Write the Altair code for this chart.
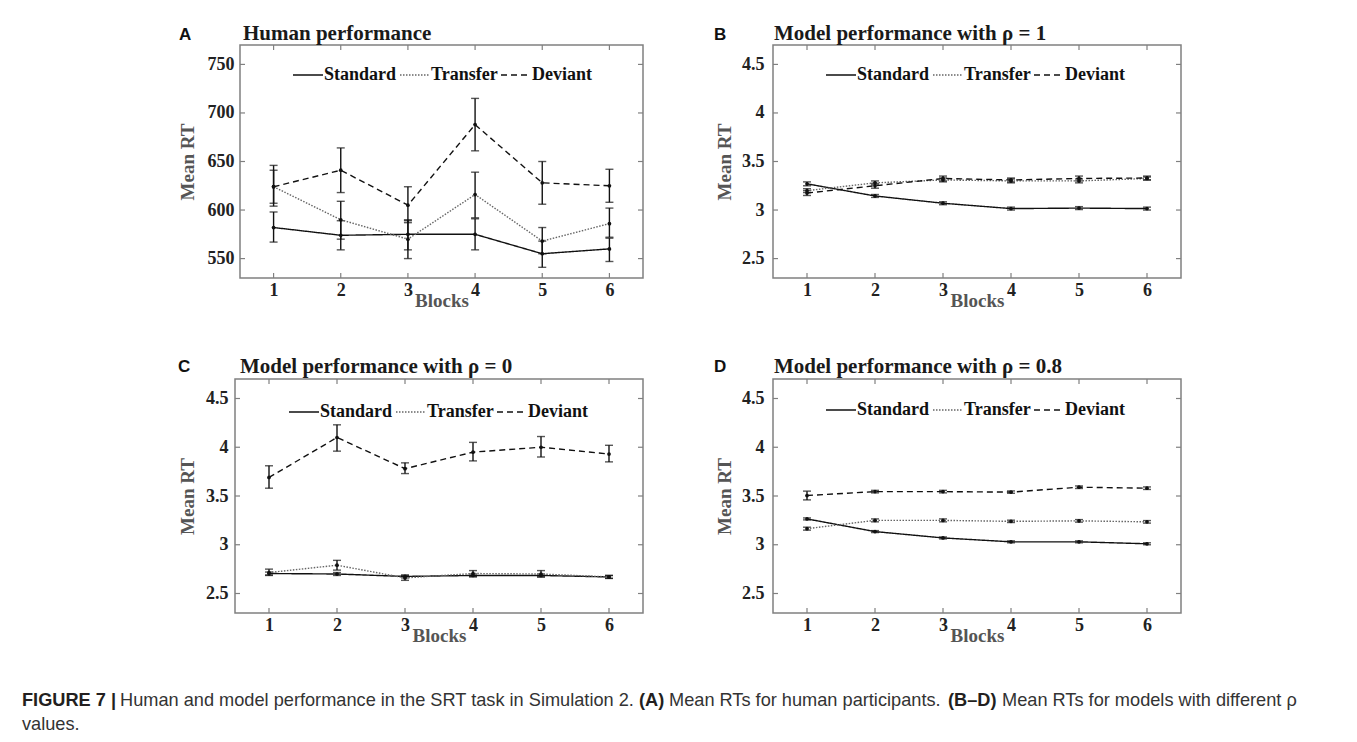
import altair as alt
import pandas as pd

SERIF = "Liberation Serif"
SANS = "Liberation Sans"
FRAME = "#808080"

blocks = [1, 2, 3, 4, 5, 6]
series_names = ["Standard", "Transfer", "Deviant"]

# ---- Panel A: human performance
a_std = [582, 574, 575, 575, 555, 560]
a_std_lo = [567, 559, 559, 559, 541, 547]
a_std_hi = [598, 589, 590, 591, 568, 571]
a_tra = [624, 590, 570, 616, 568, 586]
a_tra_lo = [607, 570, 550, 592, 555, 572]
a_tra_hi = [641, 609, 589, 639, 582, 602]
a_dev = [624, 641, 605, 688, 628, 625]
a_dev_lo = [604, 618, 587, 661, 606, 608]
a_dev_hi = [646, 664, 624, 715, 650, 642]
a_ticks = [550, 600, 650, 700, 750]

# ---- Panel B: rho = 1
b_std = [3.27, 3.145, 3.07, 3.015, 3.02, 3.015]
b_std_lo = [3.25, 3.13, 3.055, 3.0, 3.005, 3.0]
b_std_hi = [3.29, 3.16, 3.085, 3.03, 3.035, 3.03]
b_tra = [3.20, 3.28, 3.31, 3.30, 3.30, 3.325]
b_tra_lo = [3.18, 3.26, 3.29, 3.28, 3.28, 3.31]
b_tra_hi = [3.22, 3.30, 3.33, 3.32, 3.32, 3.34]
b_dev = [3.175, 3.25, 3.325, 3.31, 3.325, 3.33]
b_dev_lo = [3.15, 3.225, 3.30, 3.29, 3.30, 3.31]
b_dev_hi = [3.20, 3.275, 3.35, 3.33, 3.35, 3.35]

# ---- Panel C: rho = 0
c_std = [2.705, 2.70, 2.675, 2.685, 2.685, 2.67]
c_std_lo = [2.69, 2.685, 2.66, 2.67, 2.67, 2.655]
c_std_hi = [2.72, 2.715, 2.69, 2.70, 2.70, 2.685]
c_tra = [2.715, 2.79, 2.66, 2.705, 2.70, 2.67]
c_tra_lo = [2.685, 2.74, 2.635, 2.675, 2.67, 2.655]
c_tra_hi = [2.75, 2.84, 2.685, 2.735, 2.735, 2.685]
c_dev = [3.69, 4.10, 3.78, 3.95, 4.00, 3.93]
c_dev_lo = [3.58, 3.96, 3.73, 3.86, 3.90, 3.85]
c_dev_hi = [3.81, 4.23, 3.84, 4.05, 4.11, 4.02]

# ---- Panel D: rho = 0.8
d_std = [3.265, 3.135, 3.07, 3.03, 3.03, 3.01]
d_std_lo = [3.255, 3.125, 3.06, 3.02, 3.02, 3.0]
d_std_hi = [3.275, 3.145, 3.08, 3.04, 3.04, 3.02]
d_tra = [3.165, 3.25, 3.25, 3.24, 3.245, 3.235]
d_tra_lo = [3.15, 3.235, 3.235, 3.228, 3.232, 3.222]
d_tra_hi = [3.18, 3.265, 3.265, 3.252, 3.258, 3.248]
d_dev = [3.505, 3.545, 3.545, 3.54, 3.59, 3.58]
d_dev_lo = [3.46, 3.532, 3.532, 3.528, 3.577, 3.567]
d_dev_hi = [3.55, 3.558, 3.558, 3.552, 3.603, 3.593]

model_ticks = [2.5, 3, 3.5, 4, 4.5]


def make_df(std, std_lo, std_hi, tra, tra_lo, tra_hi, dev, dev_lo, dev_hi):
    rows = []
    for name, m, lo, hi in [("Standard", std, std_lo, std_hi),
                            ("Transfer", tra, tra_lo, tra_hi),
                            ("Deviant", dev, dev_lo, dev_hi)]:
        for b, mv, lv, hv in zip(blocks, m, lo, hi):
            rows.append({"block": b, "series": name, "mean": mv, "lo": lv, "hi": hv})
    return pd.DataFrame(rows)


def label(text, x, y, font, size, color="#111"):
    return alt.Chart(pd.DataFrame({"t": [text]})).mark_text(
        font=font, fontSize=size, fontWeight="bold", color=color, align="left",
        baseline="alphabetic").encode(text="t:N", x=alt.value(x), y=alt.value(y))


def panel(df, title, letter, ydom, yticks, yfmt, W, H, x0, label_pad, ytitle_x,
          leg_x, leg_y, title_x, title_y, letter_x, letter_y):
    xscale = alt.Scale(domain=[0.5, 6.5], range=[x0, W], nice=False, zero=False)
    yscale = alt.Scale(domain=ydom, nice=False, zero=False)
    xaxis = alt.Axis(values=blocks, title="Blocks", domain=False, ticks=False, tickSize=0,
                     grid=False, labelFont=SERIF, labelFontSize=18, labelFontWeight="bold",
                     labelColor="#222", labelPadding=3, labelAngle=0,
                     titleFont=SERIF, titleFontSize=19, titleFontWeight="bold",
                     titleColor="#555", titleX=(x0 + W) / 2, titleY=22,
                     titleBaseline="middle")
    yaxis = alt.Axis(values=yticks, format=yfmt, title="Mean RT", domain=False, ticks=False,
                     tickSize=0, grid=False, labelFont=SERIF, labelFontSize=18,
                     labelFontWeight="bold", labelColor="#222", labelPadding=label_pad,
                     titleFont=SERIF, titleFontSize=19, titleFontWeight="bold",
                     titleColor="#555", titleX=ytitle_x, titleBaseline="middle")

    def X(f):
        return alt.X(f, type="quantitative", scale=xscale, axis=xaxis)

    def Y(f):
        return alt.Y(f, type="quantitative", scale=yscale, axis=yaxis)

    leg = alt.Legend(orient="none", legendX=leg_x, legendY=leg_y, direction="horizontal",
                     title=None, symbolType="stroke", symbolSize=900, symbolStrokeWidth=1.4,
                     labelFont=SERIF, labelFontSize=18, labelFontWeight="bold",
                     labelColor="#111", labelOffset=0, columnPadding=0, padding=0)

    one = pd.DataFrame({"k": [0]})
    frame = alt.Chart(one).mark_rect(filled=False, stroke=FRAME, strokeWidth=1.5).encode(
        x=alt.value(x0), x2=alt.value(W), y=alt.value(0), y2=alt.value(H))

    ytick_df = pd.DataFrame({"v": yticks})
    xtick_df = pd.DataFrame({"b": blocks})
    lt = alt.Chart(ytick_df).mark_rule(color=FRAME, strokeWidth=1.2).encode(
        y=Y("v"), x=alt.value(x0), x2=alt.value(x0 + 5))
    rt = alt.Chart(ytick_df).mark_rule(color=FRAME, strokeWidth=1.2).encode(
        y=Y("v"), x=alt.value(W - 5), x2=alt.value(W))
    tt = alt.Chart(xtick_df).mark_rule(color=FRAME, strokeWidth=1.2).encode(
        x=X("b"), y=alt.value(0), y2=alt.value(5))
    bt = alt.Chart(xtick_df).mark_rule(color=FRAME, strokeWidth=1.2).encode(
        x=X("b"), y=alt.value(H - 5), y2=alt.value(H))

    errs = alt.Chart(df).mark_errorbar(ticks={"size": 8, "thickness": 1.4}, thickness=1.4,
                                       color="#111").encode(
        x=X("block"), y=Y("lo"), y2=alt.Y2("hi"))

    lines = alt.Chart(df).mark_line(strokeWidth=1.4).encode(
        x=X("block"), y=Y("mean"),
        strokeDash=alt.StrokeDash("series:N",
                                  scale=alt.Scale(domain=series_names,
                                                  range=[[1, 0], [1.5, 1.5], [6, 4]]),
                                  legend=leg),
        color=alt.Color("series:N",
                        scale=alt.Scale(domain=series_names, range=["#111", "#666", "#111"]),
                        legend=leg),
    )
    pts = alt.Chart(df).mark_point(filled=True, size=14, color="#111", opacity=1).encode(
        x=X("block"), y=Y("mean"))

    let = label(letter, letter_x, letter_y, SANS, 17)
    ttl = label(title, title_x, title_y, SERIF, 21, "#1a1a1a")

    return alt.layer(frame, lt, rt, tt, bt, errs, lines, pts, let, ttl).properties(
        width=W, height=H,
    ).resolve_scale(color="shared", strokeDash="shared")


dfA = make_df(a_std, a_std_lo, a_std_hi, a_tra, a_tra_lo, a_tra_hi, a_dev, a_dev_lo, a_dev_hi)
dfB = make_df(b_std, b_std_lo, b_std_hi, b_tra, b_tra_lo, b_tra_hi, b_dev, b_dev_lo, b_dev_hi)
dfC = make_df(c_std, c_std_lo, c_std_hi, c_tra, c_tra_lo, c_tra_hi, c_dev, c_dev_lo, c_dev_hi)
dfD = make_df(d_std, d_std_lo, d_std_hi, d_tra, d_tra_lo, d_tra_hi, d_dev, d_dev_lo, d_dev_hi)

A = panel(dfA, "Human performance", "A", [530, 770], a_ticks, "d", 408, 233, 5, 1, -48,
          57, 14, 8, -5, -56, -5)
B = panel(dfB, "Model performance with ρ = 1", "B", [2.3, 4.7], model_ticks, ".1~f", 408, 233,
          0, 9, -49, 52, 14, 1, -5, -59, -5)
C = panel(dfC, "Model performance with ρ = 0", "C", [2.3, 4.7], model_ticks, ".1~f", 408, 234,
          0, 7, -48, 53, 17, 5, -6, -57, -7)
D = panel(dfD, "Model performance with ρ = 0.8", "D", [2.3, 4.7], model_ticks, ".1~f", 408, 234,
          0, 9, -49, 52, 15, 1, -6, -59, -7)


# ---- caption
def cap(text, x, y, bold):
    return alt.Chart(pd.DataFrame({"t": [text]})).mark_text(
        font=SANS, fontSize=18.2, fontWeight="bold" if bold else "normal",
        color="#231f20" if bold else "#333", align="left", baseline="alphabetic").encode(
        text="t:N", x=alt.value(x), y=alt.value(y))


caption = alt.layer(
    cap("FIGURE 7 |", -213, -8, True),
    cap("Human and model performance in the SRT task in Simulation 2.", -115, -8, False),
    cap("(A)", 404, -8, True),
    cap("Mean RTs for human participants.", 434, -8, False),
    cap("(B–D)", 713, -8, True),
    cap("Mean RTs for models with different ρ", 767, -8, False),
    cap("values.", -213, 16, False),
).properties(width=1, height=1)

chart = alt.concat(A, B, C, D, caption, columns=2, spacing={"row": 101, "column": 130},
                   bounds="flush").resolve_scale(
    x="independent", y="independent", color="independent", strokeDash="independent"
).resolve_legend(color="independent", strokeDash="independent").properties(
    padding={"left": 13, "top": 14, "right": 5, "bottom": 5}
).configure_view(stroke="transparent")

chart.save("out.html", embed_options={"renderer": "svg", "actions": False})
